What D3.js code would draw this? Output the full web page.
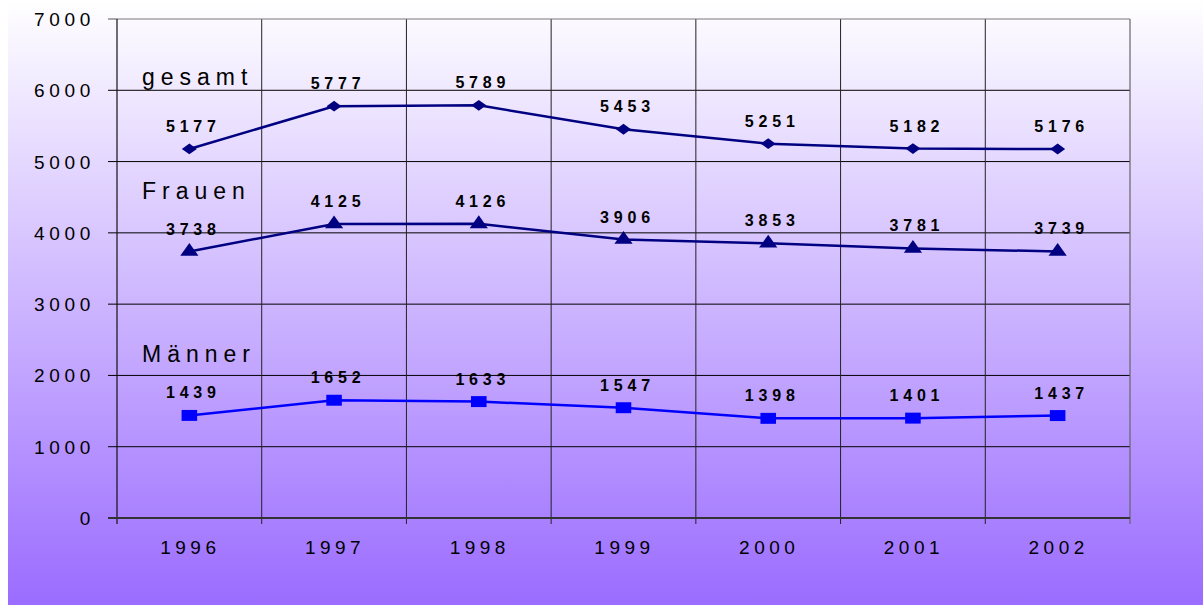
<!DOCTYPE html>
<html>
<head>
<meta charset="utf-8">
<script src="https://cdn.jsdelivr.net/npm/d3@7"></script>
<style>
  body { margin: 0; background: #fff; }
  svg { display: block; font-family: "Liberation Sans", Arial, sans-serif; }
</style>
</head>
<body>
<div id="chart"></div>
<script>
// data
var years = ["1996", "1997", "1998", "1999", "2000", "2001", "2002"];
var gesamt = [5177, 5777, 5789, 5453, 5251, 5182, 5176];
var frauen = [3738, 4125, 4126, 3906, 3853, 3781, 3739];
var maenner = [1439, 1652, 1633, 1547, 1398, 1401, 1437];
var yTicks = [0, 1000, 2000, 3000, 4000, 5000, 6000, 7000];

var W = 1203, H = 606;
var m = {left: 117, right: 1130, top: 19, bottom: 518};

var svg = d3.select("#chart").append("svg").attr("width", W).attr("height", H);

var defs = svg.append("defs");
var grad = defs.append("linearGradient").attr("id", "bg")
  .attr("x1", 0).attr("y1", 0).attr("x2", 0).attr("y2", 1);
grad.append("stop").attr("offset", "0%").attr("stop-color", "#ffffff");
grad.append("stop").attr("offset", "100%").attr("stop-color", "#9b6cff");

svg.append("rect").attr("x", 8).attr("y", 0).attr("width", W - 8).attr("height", 605)
  .attr("fill", "url(#bg)");

var x = d3.scaleBand().domain(years).range([m.left, m.right]);
var y = d3.scaleLinear().domain([0, 7000]).range([m.bottom, m.top]);
var cx = d => x(d) + x.bandwidth() / 2;

// horizontal grid + y ticks
svg.append("g").selectAll("line").data(yTicks.slice(1, -1)).join("line")
  .attr("x1", m.left - 9).attr("x2", m.right)
  .attr("y1", d => y(d)).attr("y2", d => y(d))
  .attr("stroke", "#000").attr("stroke-width", 1);

// vertical grid
svg.append("g").selectAll("line").data(years.slice(1)).join("line")
  .attr("x1", d => x(d)).attr("x2", d => x(d))
  .attr("y1", m.top).attr("y2", m.bottom + 6)
  .attr("stroke", "#222").attr("stroke-width", 1);

// border top/right
svg.append("line").attr("x1", m.left).attr("x2", m.right).attr("y1", m.top).attr("y2", m.top)
  .attr("stroke", "#777").attr("stroke-width", 1.2);
svg.append("line").attr("x1", m.left - 9).attr("x2", m.left).attr("y1", m.top).attr("y2", m.top)
  .attr("stroke", "#555").attr("stroke-width", 1);
svg.append("line").attr("x1", m.right).attr("x2", m.right).attr("y1", m.top).attr("y2", m.bottom + 6)
  .attr("stroke", "#666").attr("stroke-width", 1.2);

// axes
svg.append("line").attr("x1", m.left).attr("x2", m.left).attr("y1", m.top).attr("y2", m.bottom + 6)
  .attr("stroke", "#111").attr("stroke-width", 1.2);
svg.append("line").attr("x1", m.left - 9).attr("x2", m.right).attr("y1", m.bottom).attr("y2", m.bottom)
  .attr("stroke", "#333").attr("stroke-width", 2);

// tick labels
svg.append("g").selectAll("text").data(yTicks).join("text")
  .attr("x", 95).attr("y", d => y(d) + 7)
  .attr("text-anchor", "end").attr("font-size", 19).attr("letter-spacing", 4.7)
  .attr("fill", "#000").text(d => d);

svg.append("g").selectAll("text").data(years).join("text")
  .attr("x", d => cx(d) + 1).attr("y", 554)
  .attr("text-anchor", "middle").attr("font-size", 19).attr("letter-spacing", 4.5)
  .attr("fill", "#000").text(d => d);

// flat diamond marker (wider than tall)
var flatDiamond = {
  draw: function(ctx, size) {
    var w = Math.sqrt(size) * 0.7, h = w * 0.72;
    ctx.moveTo(-w, 0); ctx.lineTo(0, -h); ctx.lineTo(w, 0); ctx.lineTo(0, h); ctx.closePath();
  }
};

// series
var series = [
  {name: "gesamt", values: gesamt, color: "#000080", shape: flatDiamond, size: 115, sx: 1, sy: 1, labelY: 85},
  {name: "Frauen", values: frauen, color: "#000080", shape: d3.symbolTriangle, size: 105, sx: 1.17, sy: 0.95, labelY: 199},
  {name: "Männer", values: maenner, color: "#0000ff", shape: d3.symbolSquare, size: 155, sx: 1.25, sy: 0.88, labelY: 362}
];

var line = d3.line().x((d, i) => cx(years[i])).y(d => y(d));

series.forEach(function(s) {
  var g = svg.append("g");
  g.append("path").attr("d", line(s.values)).attr("fill", "none")
    .attr("stroke", s.color).attr("stroke-width", 2.5);
  g.selectAll("path.pt").data(s.values).join("path").attr("class", "pt")
    .attr("d", d3.symbol().type(s.shape).size(s.size))
    .attr("transform", (d, i) => "translate(" + cx(years[i]) + "," + y(d) + ") scale(" + s.sx + "," + s.sy + ")")
    .attr("fill", s.color);
  g.selectAll("text.val").data(s.values).join("text").attr("class", "val")
    .attr("x", (d, i) => cx(years[i]) + 4).attr("y", d => y(d) - 17)
    .attr("text-anchor", "middle").attr("font-size", 16).attr("font-weight", "bold")
    .attr("letter-spacing", 4.8).attr("fill", "#000").text(d => d);
  svg.append("text").attr("x", 142).attr("y", s.labelY)
    .attr("font-size", 23).attr("letter-spacing", 6).attr("fill", "#000").text(s.name);
});
</script>
</body>
</html>
